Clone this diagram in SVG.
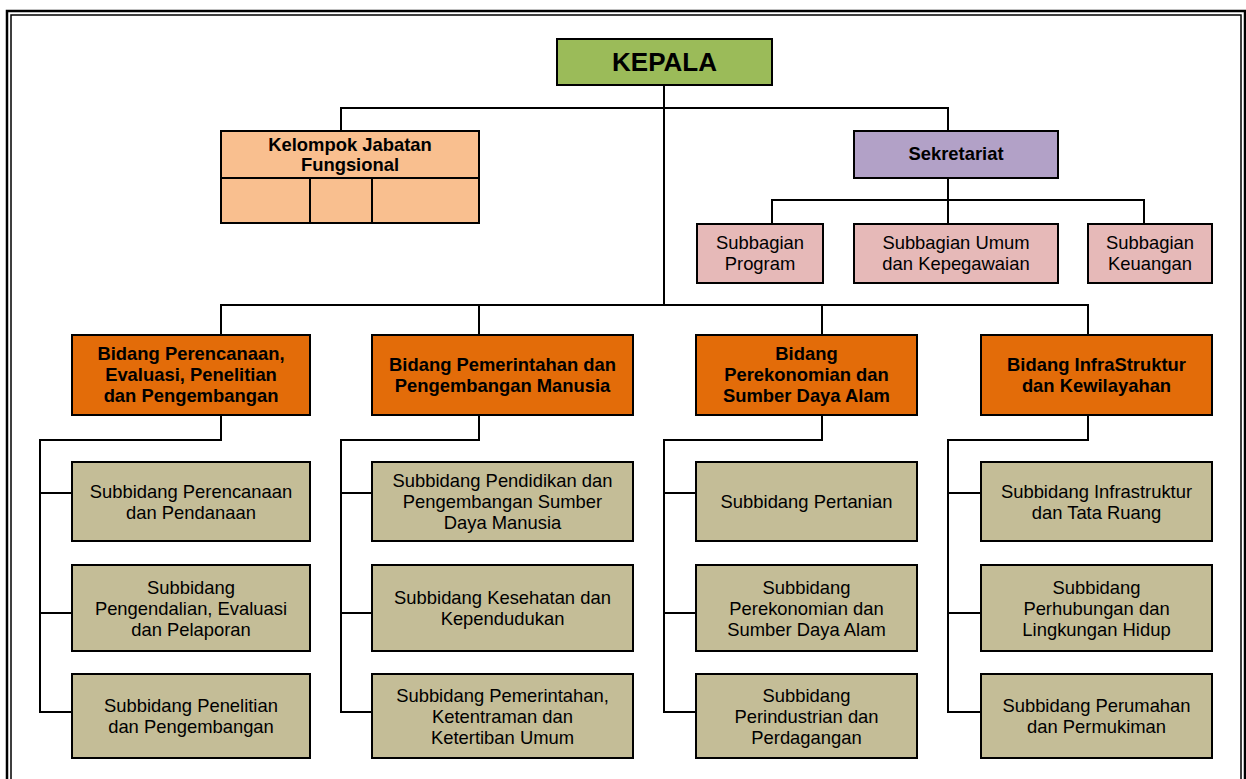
<svg xmlns="http://www.w3.org/2000/svg" width="1246" height="779" viewBox="0 0 1246 779">
<style>
  .box { stroke: #000; stroke-width: 2; }
  .kepala { fill: #9BBB59; }
  .fung { fill: #F9BF8F; }
  .sek { fill: #B2A1C7; }
  .sub { fill: #E6B9B8; }
  .bid { fill: #E36C09; }
  .sbd { fill: #C4BD97; }
  .conn { stroke: #000; stroke-width: 2; fill: none; }
  text { font-family: "Liberation Sans", Arial, sans-serif; fill: #000; text-anchor: middle; font-size: 18.4px; }
  .b { font-weight: bold; }
</style>
<rect x="0" y="0" width="1246" height="779" fill="#fff"/>
<g id="frame" fill="none" stroke="#000">
  <rect x="7" y="11" width="1238" height="800" stroke-width="2.5"/>
  <rect x="11" y="15" width="1230" height="800" stroke-width="1.5"/>
</g>
<g id="connectors" class="conn">
  <path d="M664 85 V305"/>
  <path d="M341 131 V108 H948 V131"/>
  <path d="M948 178 V224"/>
  <path d="M772 224 V200 H1144 V224"/>
  <path d="M221 335 V305 H1088 V335"/>
  <path d="M479 305 V335"/>
  <path d="M822 305 V335"/>
  <path d="M221 415 V440 H40 V712 H72 M40 493 H72 M40 613 H72"/>
  <path d="M479 415 V440 H341 V712 H372 M341 493 H372 M341 613 H372"/>
  <path d="M822 415 V440 H664 V712 H696 M664 493 H696 M664 613 H696"/>
  <path d="M1088 415 V440 H948 V712 H981 M948 493 H981 M948 613 H981"/>
</g>
<g id="kepala">
  <rect class="box kepala" x="557" y="39" width="215" height="46"/>
  <text class="b" x="664.5" y="71" style="font-size:26px">KEPALA</text>
</g>
<g id="kelompok">
  <rect class="box fung" x="221" y="131" width="258" height="92"/>
  <path class="conn" d="M221 178 H479 M310 178 V223 M372 178 V223"/>
  <text class="b" x="350" y="151">Kelompok Jabatan</text>
  <text class="b" x="350" y="171">Fungsional</text>
</g>
<g id="sekretariat">
  <rect class="box sek" x="854" y="131" width="204" height="47"/>
  <text class="b" x="956" y="160">Sekretariat</text>
</g>
<g id="subbagian-program">
  <rect class="box sub" x="697" y="224" width="126" height="59"/>
  <text x="760" y="249">Subbagian</text>
  <text x="760" y="270">Program</text>
</g>
<g id="subbagian-umum">
  <rect class="box sub" x="854" y="224" width="204" height="59"/>
  <text x="956" y="249">Subbagian Umum</text>
  <text x="956" y="270">dan Kepegawaian</text>
</g>
<g id="subbagian-keuangan">
  <rect class="box sub" x="1088" y="224" width="124" height="59"/>
  <text x="1150" y="249">Subbagian</text>
  <text x="1150" y="270">Keuangan</text>
</g>
<g id="bidang-perencanaan">
  <rect class="box bid" x="72" y="335" width="238" height="80"/>
  <text class="b" x="191" y="360">Bidang Perencanaan,</text>
  <text class="b" x="191" y="381">Evaluasi, Penelitian</text>
  <text class="b" x="191" y="402">dan Pengembangan</text>
</g>
<g id="bidang-pemerintahan">
  <rect class="box bid" x="372" y="335" width="261" height="80"/>
  <text class="b" x="502.5" y="371">Bidang Pemerintahan dan</text>
  <text class="b" x="502.5" y="392">Pengembangan Manusia</text>
</g>
<g id="bidang-perekonomian">
  <rect class="box bid" x="696" y="335" width="221" height="80"/>
  <text class="b" x="806.5" y="360">Bidang</text>
  <text class="b" x="806.5" y="381">Perekonomian dan</text>
  <text class="b" x="806.5" y="402">Sumber Daya Alam</text>
</g>
<g id="bidang-infrastruktur">
  <rect class="box bid" x="981" y="335" width="231" height="80"/>
  <text class="b" x="1096.5" y="371">Bidang InfraStruktur</text>
  <text class="b" x="1096.5" y="392">dan Kewilayahan</text>
</g>
<g id="sb-perencanaan">
  <rect class="box sbd" x="72" y="462" width="238" height="79"/>
  <text x="191" y="497.5">Subbidang Perencanaan</text>
  <text x="191" y="518.5">dan Pendanaan</text>
</g>
<g id="sb-pengendalian">
  <rect class="box sbd" x="72" y="565" width="238" height="86"/>
  <text x="191" y="593.5">Subbidang</text>
  <text x="191" y="614.5">Pengendalian, Evaluasi</text>
  <text x="191" y="635.5">dan Pelaporan</text>
</g>
<g id="sb-penelitian">
  <rect class="box sbd" x="72" y="674" width="238" height="84"/>
  <text x="191" y="712">Subbidang Penelitian</text>
  <text x="191" y="733">dan Pengembangan</text>
</g>
<g id="sb-pendidikan">
  <rect class="box sbd" x="372" y="462" width="261" height="79"/>
  <text x="502.5" y="487">Subbidang Pendidikan dan</text>
  <text x="502.5" y="508">Pengembangan Sumber</text>
  <text x="502.5" y="529">Daya Manusia</text>
</g>
<g id="sb-kesehatan">
  <rect class="box sbd" x="372" y="565" width="261" height="86"/>
  <text x="502.5" y="604">Subbidang Kesehatan dan</text>
  <text x="502.5" y="625">Kependudukan</text>
</g>
<g id="sb-pemerintahan">
  <rect class="box sbd" x="372" y="674" width="261" height="84"/>
  <text x="502.5" y="701.5">Subbidang Pemerintahan,</text>
  <text x="502.5" y="722.5">Ketentraman dan</text>
  <text x="502.5" y="743.5">Ketertiban Umum</text>
</g>
<g id="sb-pertanian">
  <rect class="box sbd" x="696" y="462" width="221" height="79"/>
  <text x="806.5" y="508">Subbidang Pertanian</text>
</g>
<g id="sb-perekonomian">
  <rect class="box sbd" x="696" y="565" width="221" height="86"/>
  <text x="806.5" y="593.5">Subbidang</text>
  <text x="806.5" y="614.5">Perekonomian dan</text>
  <text x="806.5" y="635.5">Sumber Daya Alam</text>
</g>
<g id="sb-perindustrian">
  <rect class="box sbd" x="696" y="674" width="221" height="84"/>
  <text x="806.5" y="701.5">Subbidang</text>
  <text x="806.5" y="722.5">Perindustrian dan</text>
  <text x="806.5" y="743.5">Perdagangan</text>
</g>
<g id="sb-infrastruktur">
  <rect class="box sbd" x="981" y="462" width="231" height="79"/>
  <text x="1096.5" y="497.5">Subbidang Infrastruktur</text>
  <text x="1096.5" y="518.5">dan Tata Ruang</text>
</g>
<g id="sb-perhubungan">
  <rect class="box sbd" x="981" y="565" width="231" height="86"/>
  <text x="1096.5" y="593.5">Subbidang</text>
  <text x="1096.5" y="614.5">Perhubungan dan</text>
  <text x="1096.5" y="635.5">Lingkungan Hidup</text>
</g>
<g id="sb-perumahan">
  <rect class="box sbd" x="981" y="674" width="231" height="84"/>
  <text x="1096.5" y="712">Subbidang Perumahan</text>
  <text x="1096.5" y="733">dan Permukiman</text>
</g>
</svg>
